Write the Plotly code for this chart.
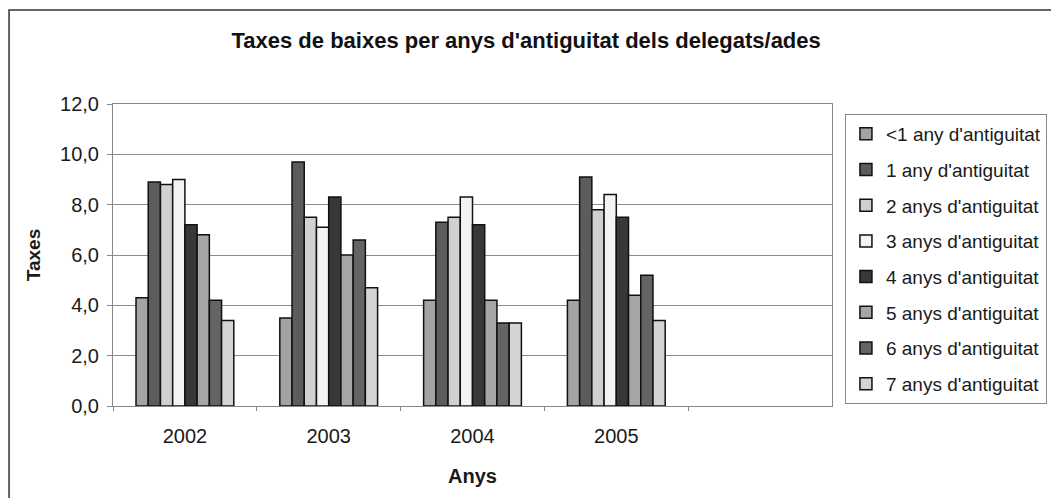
import plotly.graph_objects as go

# Data
years = ["2002", "2003", "2004", "2005"]
series_names = [
    "<1 any d'antiguitat",
    "1 any d'antiguitat",
    "2 anys d'antiguitat",
    "3 anys d'antiguitat",
    "4 anys d'antiguitat",
    "5 anys d'antiguitat",
    "6 anys d'antiguitat",
    "7 anys d'antiguitat",
]
lt1 = [4.3, 3.5, 4.2, 4.2]
y1 = [8.9, 9.7, 7.3, 9.1]
y2 = [8.8, 7.5, 7.5, 7.8]
y3 = [9.0, 7.1, 8.3, 8.4]
y4 = [7.2, 8.3, 7.2, 7.5]
y5 = [6.8, 6.0, 4.2, 4.4]
y6 = [4.2, 6.6, 3.3, 5.2]
y7 = [3.4, 4.7, 3.3, 3.4]
values = [lt1, y1, y2, y3, y4, y5, y6, y7]

colors = ["#a3a3a3", "#5c5c5c", "#d0d0d0", "#f3f3f3",
          "#383838", "#a6a6a6", "#646464", "#d4d4d4"]

FONT = "Liberation Sans, Arial, sans-serif"

fig = go.Figure()
for i, (name, vals) in enumerate(zip(series_names, values)):
    fig.add_trace(go.Bar(
        x=years, y=vals, name=name,
        legendgroup=f"g{i}",
        marker=dict(color=colors[i], line=dict(color="#111111", width=1.5)),
    ))

# page body has an 8px margin, so the figure is drawn 8px smaller
fig.update_layout(
    width=1051, height=490,
    autosize=False,
    paper_bgcolor="white", plot_bgcolor="white",
    margin=dict(l=105, r=227, t=96, b=92),
    barmode="group", bargap=0.32, bargroupgap=0,
    font=dict(family=FONT, size=20, color="#1a1a1a"),
    title=dict(text="<b>Taxes de baixes per anys d'antiguitat dels delegats/ades</b>",
               x=0.493, xanchor="center", y=0.935, yanchor="middle",
               font=dict(family=FONT, size=22, color="#111111")),
    legend=dict(x=1.018, y=0.967, xanchor="left", yanchor="top",
                bordercolor="#8a8a8a", borderwidth=1,
                font=dict(family=FONT, size=19, color="#1a1a1a"),
                tracegroupgap=8, traceorder="grouped"),
    showlegend=True,
    separators=",.",
    shapes=[dict(type="rect", xref="paper", yref="paper",
                 x0=-0.1446, x1=1.6, y0=-0.6, y1=1.311,
                 line=dict(color="#333333", width=1.5))],
)

fig.update_xaxes(
    type="category", range=[-0.5, 4.5],
    title=dict(text="<b>Anys</b>", font=dict(family=FONT, size=20), standoff=22),
    showgrid=False, showline=True, linecolor="#888888", linewidth=1, mirror=True,
    ticks="outside", tickson="boundaries", ticklen=4, tickcolor="#888888",
    tickfont=dict(size=20), ticklabelstandoff=12,
)
fig.update_yaxes(
    range=[0, 12], dtick=2, tickformat=".1f",
    title=dict(text="<b>Taxes</b>", font=dict(family=FONT, size=19), standoff=14),
    showgrid=True, gridcolor="#8c8c8c", gridwidth=1,
    showline=True, linecolor="#888888", linewidth=1, mirror=True,
    ticks="outside", ticklen=5, tickcolor="#888888",
    tickfont=dict(size=20), ticklabelstandoff=4, zeroline=False,
)

fig.write_html("out.html")
